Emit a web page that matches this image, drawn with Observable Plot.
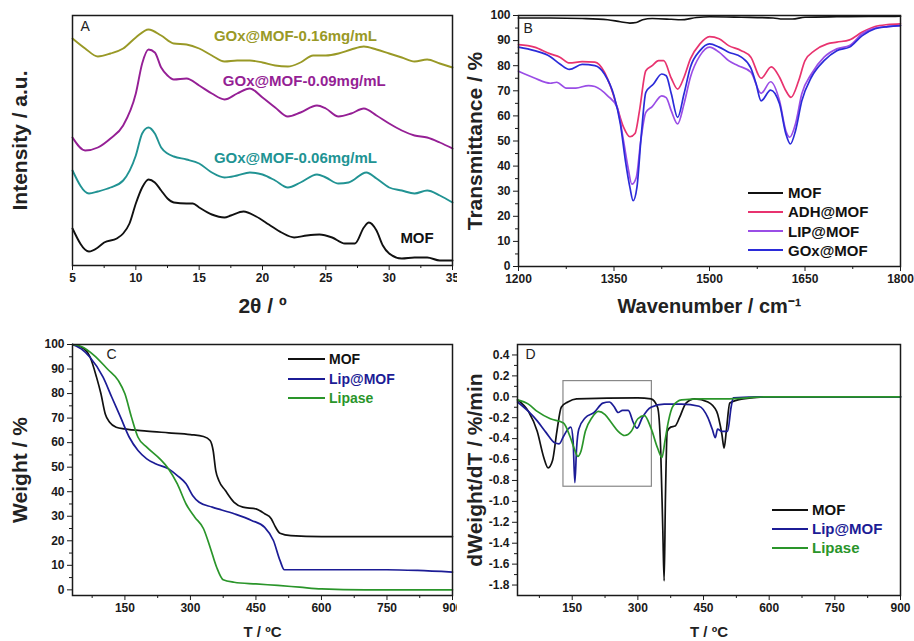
<!DOCTYPE html>
<html><head><meta charset="utf-8">
<script src="https://cdn.jsdelivr.net/npm/d3@7"></script>
<script src="https://cdn.jsdelivr.net/npm/@observablehq/plot@0.6"></script>
<style>
body{margin:0;background:#fff;}
#wrap{position:relative;width:914px;height:641px;font-family:"Liberation Sans",Arial,sans-serif;overflow:hidden;}
.legend{position:absolute;font-weight:bold;font-family:"Liberation Sans",Arial,sans-serif;}
.legend .row{position:absolute;left:0;white-space:nowrap;display:flex;align-items:center;line-height:1;}
.legend .sw{display:inline-block;height:0;border-top:2px solid;}
</style></head><body><div id="wrap"></div>
<script>
// ---------- Panel A: XRD ----------
const A_MOF_x = [5,6.3,7,7.5,8.5,9,9.5,10,10.5,11,11.5,12,12.5,13,14,14.5,15,16,17,17.5,18.5,19.5,20.5,21.5,22.5,23.5,24.5,25.5,26.5,27.3,28,28.4,29,29.5,30,31,32,33,34,35];
const A_MOF_y = [37,14,18,23,27,32,42,62,78,86,83,75,67,63,62,62,58,51,48,50,54,49,41,33,28,30,31,28,22,22,38,43,35,20,12,7,8,8,5,5];
const A_006_x = [5,6.3,7,8,9,10,10.5,11,11.5,12,12.5,13,14,15,16,17,18,19,20,21,22,23,24.3,25,26,26.8,28.2,29,30,31,32,33,34,35];
const A_006_y = [95,72,74,78,85,110,132,138,132,118,112,109,106,102,93,88,90,93,91,85,78,83,91,88,82,83,93,87,78,75,72,75,70,63];
const A_009_x = [5,6,7,8,9,10,10.5,11,11.5,12,12.5,13,14,15,16,17,18,19,20,21,22,23,24.3,25,26,27,28,29,30,31,32,33,34,35];
const A_009_y = [128,115,118,127,140,172,202,216,213,198,190,186,187,180,172,166,172,177,168,158,149,153,160,157,149,152,157,150,142,135,130,128,123,117];
const A_016_x = [5,6,7,8,9,10,11,12,13,14,15,16,17,18,19,20,21,22,23,24,25,26,27,28,29,30,31,32,33,34,35];
const A_016_y = [227,217,209,212,217,228,236,230,222,221,217,210,204,205,205,203,200,199,203,210,210,212,216,219,216,212,208,204,206,202,198];
const A_label_text = ["GOx@MOF-0.16mg/mL","GOx@MOF-0.09mg/mL","GOx@MOF-0.06mg/mL","MOF"];
const A_label_x = [22.6,23.3,22.6,32.2];
const A_label_y = [229,184,107,27];
const A_colors = ["#999926","#951f95","#219393","#111111"];
const A_xticks = [5,10,15,20,25,30,35];
const A_xminor = [7.5,12.5,17.5,22.5,27.5,32.5];

// ---------- Panel B: FTIR ----------
const B_MOF_x = [1200,1250,1300,1340,1360,1375,1385,1395,1410,1440,1455,1480,1500,1550,1600,1615,1630,1650,1700,1750,1800];
const B_MOF_y = [99,99,98.8,98.3,97.5,97,97.2,98.3,98.8,98.5,98.3,99.2,99.5,99.3,99,98.6,98.6,99.3,99.5,99.6,99.7];
const B_ADH_x = [1200,1225,1250,1265,1280,1300,1320,1335,1345,1355,1365,1375,1383,1390,1400,1410,1420,1428,1440,1450,1460,1470,1485,1500,1515,1530,1550,1565,1581,1597,1610,1620,1628,1640,1650,1665,1685,1700,1720,1740,1760,1780,1800];
const B_ADH_y = [88.4,87.4,84.7,83.4,81.1,81.6,81.4,77.4,71.4,63.4,55.5,51.7,53,62,78,80,82,82,75,70.7,75.4,82.7,88.7,91.6,90.7,88,86,83.4,75,79.5,75.4,70,67.4,74,82,86,88.7,89.4,90.3,93.4,95.6,96.4,96.7];
const B_LIP_x = [1200,1225,1250,1260,1275,1290,1310,1320,1340,1355,1365,1372,1378,1385,1392,1400,1410,1425,1432,1440,1450,1460,1470,1485,1500,1515,1530,1545,1565,1581,1596,1610,1620,1626,1635,1645,1660,1680,1700,1720,1740,1760,1780,1800];
const B_LIP_y = [77.8,75.1,73,73.4,71.1,71.1,72.1,71.7,68,63.4,50,39.5,32.8,35.5,50,61.4,63.7,68,67.3,62,56.8,64.8,75.4,84,87.4,85.4,82,80,77.4,69,73.6,66,54,51.5,56.8,68.8,76.7,83.4,86.7,88,92.7,95,95.6,96];
const B_GOX_x = [1200,1225,1250,1265,1280,1300,1320,1335,1350,1360,1368,1375,1380,1386,1393,1400,1412,1425,1432,1440,1450,1460,1470,1485,1500,1515,1530,1550,1565,1573,1581,1596,1610,1620,1627,1635,1645,1660,1680,1700,1720,1740,1760,1780,1800];
const B_GOX_y = [87.4,86,83.6,80.7,78.5,80.5,80,76.7,68,56.8,42,31.5,26.2,31.5,52.8,69.4,72.7,76.7,76,68.8,59.4,68.8,79.4,86,88.7,87.4,85.4,83.4,79,73,66,70.3,64.8,52.8,48.8,54,66,75.4,82,86,87.4,92,94.7,95.6,96];
const B_names = ["MOF","ADH@MOF","LIP@MOF","GOx@MOF"];
const B_colors = ["#111111","#e8336f","#9a4de6","#2b2bd9"];
const B_xticks = [1200,1350,1500,1650,1800];
const B_xminor = [1275,1425,1575,1725];
const B_yticks = [0,10,20,30,40,50,60,70,80,90,100];
const B_yminor = [5,15,25,35,45,55,65,75,85,95];

// ---------- Panel C: TGA ----------
const C_MOF_x = [30,50,70,85,95,105,115,130,150,200,250,300,330,345,352,358,365,380,400,420,450,470,485,495,505,530,600,750,900];
const C_MOF_y = [100,99,95,86.7,80,71.7,68.3,66.3,65.6,64.7,64,63.3,62.5,60.9,56.8,48.6,44.6,40.5,35.7,33.7,33,31,29,25.5,23.1,22.1,21.7,21.7,21.7];
const C_LIP_x = [30,50,70,100,120,140,160,180,200,220,250,270,290,305,320,350,400,440,470,490,505,515,600,750,820,900];
const C_LIP_y = [100,98.2,94.8,86.7,78.5,70.4,62.2,56.8,53.4,51.4,49.3,46.6,43.2,38.5,35.7,33.7,31,28.3,25.5,20.1,12,8.2,8.2,8.2,7.9,7.2];
const C_LPS_x = [30,50,80,110,135,150,165,180,200,230,250,270,290,310,330,345,360,375,400,450,500,550,600,700,900];
const C_LPS_y = [100,99.2,95.5,90,85.3,79.9,70.4,62.2,58.2,53.4,49.3,43.2,35,29.6,24.9,17.4,9.2,4.1,3.1,2.4,1.8,1.1,0.4,0,0];
const CD_names = ["MOF","Lip@MOF","Lipase"];
const CD_colors = ["#111111","#1c1c96","#2a952a"];
const CD_xticks = [150,300,450,600,750,900];
const CD_xminor = [75,225,375,525,675,825];
const C_yticks = [0,10,20,30,40,50,60,70,80,90,100];
const C_yminor = [5,15,25,35,45,55,65,75,85,95];

// ---------- Panel D: DTG ----------
const D_MOF_x = [25,50,70,85,95,105,115,125,140,160,300,330,345,352,357,360,363,367,375,385,395,410,430,460,480,492,497,502,510,540,600,900];
const D_MOF_y = [-0.03,-0.14,-0.33,-0.58,-0.68,-0.61,-0.33,-0.10,-0.05,-0.02,-0.01,-0.02,-0.10,-0.49,-1.28,-1.76,-0.96,-0.33,-0.29,-0.28,-0.20,-0.06,-0.02,-0.05,-0.14,-0.36,-0.49,-0.33,-0.06,-0.02,0,0];
const D_LIP_x = [25,50,70,90,110,120,130,140,147,152,156,160,165,180,200,220,235,245,255,265,278,290,298,310,330,360,400,440,460,470,477,482,492,505,513,518,600,900];
const D_LIP_y = [-0.05,-0.14,-0.23,-0.34,-0.44,-0.45,-0.38,-0.31,-0.29,-0.42,-0.82,-0.49,-0.31,-0.20,-0.15,-0.06,-0.05,-0.09,-0.15,-0.13,-0.13,-0.25,-0.30,-0.20,-0.10,-0.07,-0.07,-0.09,-0.20,-0.31,-0.39,-0.31,-0.33,-0.33,-0.10,-0.01,0,0];
const D_LPS_x = [25,50,70,100,130,145,155,163,170,180,195,210,225,240,255,270,285,300,315,330,345,355,362,370,380,400,450,500,600,900];
const D_LPS_y = [-0.03,-0.07,-0.14,-0.21,-0.25,-0.38,-0.50,-0.57,-0.52,-0.33,-0.20,-0.14,-0.17,-0.25,-0.33,-0.37,-0.33,-0.21,-0.18,-0.30,-0.49,-0.58,-0.42,-0.23,-0.09,-0.03,-0.02,-0.02,0,0];
const D_box_T = [130,332];
const D_box_v = [-0.86,0.15];
const D_yticks = [-18,-16,-14,-12,-10,-8,-6,-4,-2,0,2,4].map(d => d / 10);
const D_yminor = [-17,-15,-13,-11,-9,-7,-5,-3,-1,1,3].map(d => d / 10);

// ---------- helpers ----------
const wrap = document.getElementById("wrap");
const pts = (xs, ys) => xs.map((x, i) => ({x, y: ys[i]}));
const FONT = "'Liberation Sans', Arial, sans-serif";
const INK = "#1a1a1a";

function line(xs, ys, color, w = 1.7) {
  return Plot.line(pts(xs, ys), {x: "x", y: "y", stroke: color, strokeWidth: w, curve: "monotone-x"});
}
function axesX(major, minor, fmt) {
  return [
    Plot.axisX({ticks: major, tickSize: 5, tickPadding: 3, tickFormat: fmt, fontSize: 12, fontWeight: "bold", label: null, stroke: INK}),
    Plot.axisX({ticks: minor, tickSize: 3, tickFormat: () => "", label: null, stroke: INK})
  ];
}
function axesY(major, minor, fmt) {
  return [
    Plot.axisY({ticks: major, tickSize: 5, tickPadding: 3, tickFormat: fmt, fontSize: 12, fontWeight: "bold", label: null, stroke: INK}),
    Plot.axisY({ticks: minor, tickSize: 3, tickFormat: () => "", label: null, stroke: INK})
  ];
}
function yTitle(t, dx) {
  return Plot.text([t], {frameAnchor: "left", dx, rotate: -90, fontSize: 21, fontWeight: "bold", textAnchor: "middle", lineAnchor: "middle", fill: "#222"});
}
function xTitle(t, dy, size) {
  return Plot.text([t], {frameAnchor: "bottom", dy, fontSize: size, fontWeight: "bold", textAnchor: "middle", lineAnchor: "middle", fill: "#222"});
}
function letter(t, dx, dy) {
  return Plot.text([t], {frameAnchor: "top-left", dx, dy, fontSize: 14, fontWeight: "normal", lineAnchor: "top", textAnchor: "start", fill: "#222"});
}
function place(el, left, top) {
  el.style.position = "absolute";
  el.style.left = left + "px";
  el.style.top = top + "px";
  wrap.append(el);
}
function legend(names, colors, textColors, left, top, rowH, swW, gap, size) {
  const d = document.createElement("div");
  d.className = "legend";
  names.forEach((n, i) => {
    const r = document.createElement("div");
    r.className = "row";
    r.style.top = (i * rowH) + "px";
    r.style.fontSize = size + "px";
    const s = document.createElement("span");
    s.className = "sw";
    s.style.width = swW + "px";
    s.style.marginRight = gap + "px";
    s.style.borderTopColor = colors[i];
    const t = document.createElement("span");
    t.textContent = n;
    t.style.color = textColors[i];
    r.append(s, t);
    d.append(r);
  });
  place(d, left, top);
}
const style = {fontFamily: FONT, fontWeight: "bold", fontSize: "12px", color: INK, background: "white", overflow: "visible"};
const intFmt = d => String(d);
const oneFmt = d => (Math.abs(d) < 1e-9 ? 0 : d).toFixed(1);

// ---------- Panel A ----------
const plotA = Plot.plot({
  width: 457, height: 320, marginLeft: 72, marginRight: 5, marginTop: 15, marginBottom: 55,
  style,
  x: {domain: [5, 35]},
  y: {domain: [0, 250], axis: null},
  marks: [
    line(A_MOF_x, A_MOF_y, A_colors[3], 1.9),
    line(A_006_x, A_006_y, A_colors[2], 1.9),
    line(A_009_x, A_009_y, A_colors[1], 1.9),
    line(A_016_x, A_016_y, A_colors[0], 1.9),
    ...A_label_text.map((t, i) => Plot.text([t], {x: () => A_label_x[i], y: () => A_label_y[i], fill: A_colors[i], fontSize: 15, fontWeight: "bold", textAnchor: "middle"})),
    ...axesX(A_xticks, A_xminor, intFmt),
    Plot.frame({stroke: INK, strokeWidth: 1.5}),
    letter("A", 8, 6),
    xTitle("2θ / º", 41, 21),
    yTitle("Intensity / a.u.", -52)
  ]
});
place(plotA, 0, 0);

// ---------- Panel B ----------
const plotB = Plot.plot({
  width: 457, height: 320, marginLeft: 61, marginRight: 14, marginTop: 15, marginBottom: 54,
  style,
  x: {domain: [1200, 1800]},
  y: {domain: [0, 100]},
  marks: [
    line(B_MOF_x, B_MOF_y, B_colors[0]),
    line(B_ADH_x, B_ADH_y, B_colors[1]),
    line(B_LIP_x, B_LIP_y, B_colors[2]),
    line(B_GOX_x, B_GOX_y, B_colors[3]),
    ...axesX(B_xticks, B_xminor, intFmt),
    ...axesY(B_yticks, B_yminor, intFmt),
    Plot.frame({stroke: INK, strokeWidth: 1.5}),
    letter("B", 5, 8),
    xTitle("Wavenumber / cm⁻¹", 40, 20),
    yTitle("Transmittance / %", -43)
  ]
});
place(plotB, 457, 0);
legend(B_names, B_colors, B_names.map(() => "#111"), 748, 185, 19.3, 35, 5, 15);

// ---------- Panel C ----------
const plotC = Plot.plot({
  width: 457, height: 321, marginLeft: 72, marginRight: 5, marginTop: 24, marginBottom: 46,
  style,
  x: {domain: [30, 900]},
  y: {domain: [-2.3, 100]},
  marks: [
    line(C_MOF_x, C_MOF_y, CD_colors[0]),
    line(C_LIP_x, C_LIP_y, CD_colors[1]),
    line(C_LPS_x, C_LPS_y, CD_colors[2]),
    ...axesX(CD_xticks, CD_xminor, intFmt),
    ...axesY(C_yticks, C_yminor, intFmt),
    Plot.frame({stroke: INK, strokeWidth: 1.5}),
    letter("C", 34, 5),
    xTitle("T / ºC", 37, 15),
    yTitle("Weight / %", -52)
  ]
});
place(plotC, 0, 320);
legend(CD_names, CD_colors, CD_colors, 288, 352, 19.5, 37, 4, 14);

// ---------- Panel D ----------
const plotD = Plot.plot({
  width: 457, height: 321, marginLeft: 60, marginRight: 14, marginTop: 24, marginBottom: 46,
  style,
  x: {domain: [25, 900]},
  y: {domain: [-1.9, 0.5]},
  marks: [
    Plot.rect([{x1: D_box_T[0], x2: D_box_T[1], y1: D_box_v[0], y2: D_box_v[1]}], {x1: "x1", x2: "x2", y1: "y1", y2: "y2", fill: "none", stroke: "#888", strokeWidth: 1.2}),
    line(D_MOF_x, D_MOF_y, CD_colors[0]),
    line(D_LIP_x, D_LIP_y, CD_colors[1]),
    line(D_LPS_x, D_LPS_y, CD_colors[2]),
    ...axesX(CD_xticks, CD_xminor, intFmt),
    ...axesY(D_yticks, D_yminor, oneFmt),
    Plot.frame({stroke: INK, strokeWidth: 1.5}),
    letter("D", 8, 5),
    xTitle("T / ºC", 37, 15),
    yTitle("dWeight/dT / %/min", -42)
  ]
});
place(plotD, 457, 320);
legend(CD_names, CD_colors, CD_colors, 772, 502, 19, 36, 4, 15);
</script></body></html>
